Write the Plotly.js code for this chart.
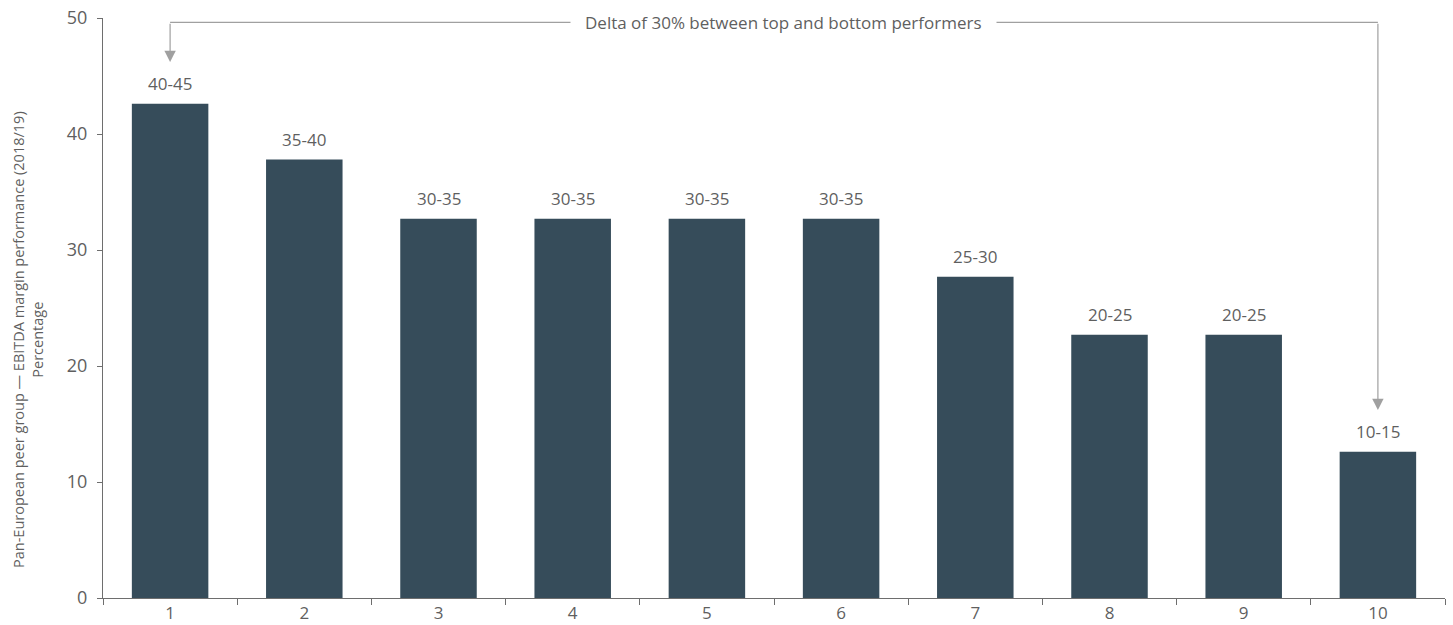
<!DOCTYPE html>
<html>
<head>
<meta charset="utf-8">
<script src="https://cdn.plot.ly/plotly-3.0.1.min.js"></script>
<style>html,body{margin:0;padding:0;background:#fff;}#chart{width:1453px;height:625px;}</style>
</head>
<body>
<div id="chart"></div>
<script>
var categories = ["1","2","3","4","5","6","7","8","9","10"];
var values = [42.6, 37.8, 32.7, 32.7, 32.7, 32.7, 27.7, 22.7, 22.7, 12.6];
var rangeLabels = ["40-45","35-40","30-35","30-35","30-35","30-35","25-30","20-25","20-25","10-15"];
var deltaText = "Delta of 30% between top and bottom performers";
var yTitle = "Pan-European peer group \u2014 EBITDA margin performance (2018/19)<br>Percentage";
var bracketY = 49.63;
var leftTipY = 46.2;
var rightTipY = 16.2;

var FONT = "Open Sans, Noto Sans, sans-serif";
var TXT = "#5f5f5f";
var GREY = "#a0a0a0";

var trace = {
  type: "bar",
  x: categories,
  y: values,
  marker: {color: "#364c5a"},
  hoverinfo: "x+y"
};

var annotations = categories.map(function(c, i){
  return {x: i, y: values[i], xref: "x", yref: "y", text: rangeLabels[i], showarrow: false,
          yanchor: "middle", yshift: 20, font: {family: FONT, size: 17, color: TXT}};
});
var firstI = 0, lastI = categories.length - 1;
annotations.push({x: firstI, y: leftTipY, ax: firstI, ay: bracketY, xref: "x", yref: "y", axref: "x", ayref: "y",
  text: "", showarrow: true, arrowhead: 2, arrowsize: 1.9, arrowwidth: 1.2, arrowcolor: GREY, standoff: 0});
annotations.push({x: lastI, y: rightTipY, ax: lastI, ay: bracketY, xref: "x", yref: "y", axref: "x", ayref: "y",
  text: "", showarrow: true, arrowhead: 2, arrowsize: 1.9, arrowwidth: 1.2, arrowcolor: GREY, standoff: 0});
annotations.push({x: 4.57, y: bracketY, xref: "x", yref: "y", text: deltaText, showarrow: false,
  bgcolor: "#ffffff", borderpad: 14, yanchor: "middle", font: {family: FONT, size: 17, color: TXT}});
annotations.push({x: 0, y: 0.5, xref: "paper", yref: "paper", xshift: -75, yshift: -32,
  xanchor: "center", yanchor: "middle", textangle: -90, showarrow: false,
  text: yTitle, font: {family: FONT, size: 14.5, color: TXT}});

var layout = {
  width: 1453, height: 625,
  margin: {l: 103, r: 8, t: 18, b: 27, pad: 0},
  paper_bgcolor: "#fff", plot_bgcolor: "#fff",
  bargap: 0.43,
  showlegend: false,
  font: {family: FONT, size: 17, color: TXT},
  xaxis: {
    type: "category",
    range: [-0.5, categories.length - 0.5],
    showgrid: false, zeroline: false,
    showline: true, linecolor: "#6e6e6e", linewidth: 1,
    ticks: "outside", tickson: "boundaries", ticklen: 6, tickcolor: "#6e6e6e",
    tickfont: {family: FONT, size: 17, color: TXT}
  },
  yaxis: {
    range: [0, 50], dtick: 10,
    showgrid: false, zeroline: false,
    showline: true, linecolor: "#6e6e6e", linewidth: 1,
    ticks: "outside", ticklen: 5, tickcolor: "#6e6e6e",
    ticklabelstandoff: 6,
    tickfont: {family: FONT, size: 18, color: TXT}
  },
  shapes: [{type: "line", xref: "x", yref: "y", x0: firstI, x1: lastI, y0: bracketY, y1: bracketY,
            line: {color: GREY, width: 1.2}}],
  annotations: annotations
};

Plotly.newPlot("chart", [trace], layout, {displayModeBar: false, staticPlot: true});
</script>
</body>
</html>
